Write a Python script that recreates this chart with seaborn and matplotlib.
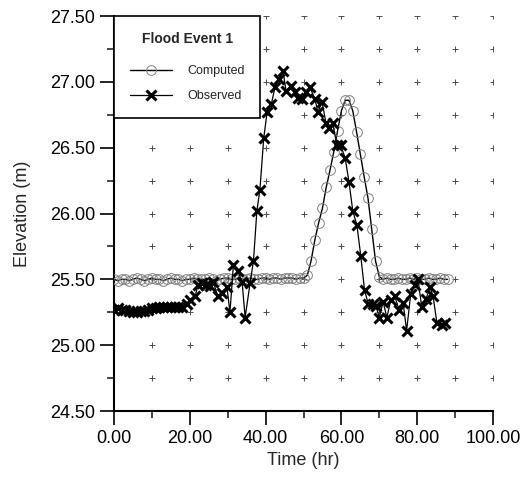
import numpy as np
import matplotlib
matplotlib.use('Agg')
import matplotlib.pyplot as plt
import seaborn as sns

# Computed water level (hourly)
computed_time = [0, 1, 2, 3, 4, 5, 6, 7, 8, 9, 10, 11, 12, 13, 14, 15, 16, 17, 18, 19,
                 20, 21, 22, 23, 24, 25, 26, 27, 28, 29, 30, 31, 32, 33, 34, 35, 36, 37, 38, 39,
                 40, 41, 42, 43, 44, 45, 46, 47, 48, 49, 50, 51, 52, 53, 54, 55, 56, 57, 58, 59,
                 60, 61, 62, 63, 64, 65, 66, 67, 68, 69, 70, 71, 72, 73, 74, 75, 76, 77, 78, 79,
                 80, 81, 82, 83, 84, 85, 86, 87, 88]
computed_elev = [25.50, 25.49, 25.50, 25.50, 25.49, 25.50, 25.51, 25.50, 25.49, 25.50,
                 25.51, 25.50, 25.50, 25.49, 25.50, 25.51, 25.50, 25.50, 25.49, 25.50,
                 25.50, 25.51, 25.50, 25.50, 25.50, 25.51, 25.50, 25.49, 25.50, 25.51,
                 25.51, 25.50, 25.50, 25.51, 25.50, 25.50, 25.51, 25.50, 25.50, 25.51,
                 25.51, 25.50, 25.51, 25.51, 25.50, 25.51, 25.51, 25.51, 25.50, 25.51,
                 25.51, 25.53, 25.64, 25.80, 25.93, 26.04, 26.20, 26.33, 26.47, 26.63,
                 26.78, 26.86, 26.86, 26.78, 26.62, 26.45, 26.28, 26.12, 25.88, 25.64,
                 25.52, 25.50, 25.51, 25.50, 25.50, 25.51, 25.50, 25.50, 25.51, 25.50,
                 25.51, 25.50, 25.50, 25.51, 25.50, 25.50, 25.51, 25.50, 25.50]

# Observed water level
observed_time = [0, 1, 2, 3, 4, 5, 6, 7, 8, 9, 10, 11, 12, 13, 14, 15, 16, 17, 18,
                 19.2, 20, 21.4, 22.2, 23.3, 24.4, 25.3, 26.2, 27.4, 28.5, 29.8, 30.6,
                 31.5, 32.7, 33.8, 34.6, 35.9, 36.8, 37.7, 38.5, 39.5, 40.4, 41.5, 42.5,
                 43.6, 44.6, 45.4, 46.6, 47.8, 48.6, 49.5, 50.6, 51.7, 53.0, 53.8, 54.9,
                 55.9, 56.8, 57.7, 58.8, 59.8, 61.0, 62.0, 63.0, 64.1, 65.1, 66.1, 67.1,
                 68.3, 69.1, 70.0, 71.0, 72.0, 73.0, 74.1, 75.2, 76.3, 77.2, 78.3, 79.4,
                 80.2, 81.2, 82.3, 83.4, 84.2, 85.2, 86.5, 87.3]
observed_elev = [25.27, 25.28, 25.27, 25.27, 25.26, 25.25, 25.25, 25.26, 25.26, 25.27,
                 25.28, 25.28, 25.29, 25.29, 25.29, 25.29, 25.29, 25.29, 25.29,
                 25.31, 25.34, 25.37, 25.46, 25.47, 25.46, 25.45, 25.48, 25.37, 25.40,
                 25.44, 25.25, 25.61, 25.56, 25.48, 25.21, 25.47, 25.64, 26.02, 26.18,
                 26.57, 26.77, 26.83, 26.96, 27.02, 27.08, 26.93, 26.97, 26.92, 26.88,
                 26.87, 26.92, 26.96, 26.87, 26.77, 26.85, 26.69, 26.65, 26.69, 26.52,
                 26.52, 26.42, 26.24, 26.02, 25.91, 25.68, 25.42, 25.31, 25.31, 25.30,
                 25.21, 25.33, 25.21, 25.34, 25.37, 25.27, 25.32, 25.11, 25.39, 25.46,
                 25.50, 25.29, 25.35, 25.44, 25.37, 25.17, 25.15, 25.17]

x_ticks = [0, 20, 40, 60, 80, 100]
y_ticks = [24.5, 25.0, 25.5, 26.0, 26.5, 27.0, 27.5]

sns.set_style('ticks')
plt.rcParams['font.family'] = ['Liberation Sans', 'DejaVu Sans']

fig = plt.figure(figsize=(5.30, 4.79), dpi=100)
ax = fig.add_axes([114 / 530, 68 / 479, 379 / 530, 395 / 479])

# "+" marks at every minor tick crossing
gx, gy = np.meshgrid(np.arange(10, 101, 10), np.arange(24.75, 27.51, 0.25))
ax.scatter(gx.ravel(), gy.ravel(), marker='+', s=14, color='0.3', linewidths=0.7, zorder=1)

sns.lineplot(x=computed_time, y=computed_elev, ax=ax, color='black', lw=1.0,
             marker='o', markersize=7, markerfacecolor='none', markeredgecolor='0.5',
             markeredgewidth=0.7, label='Computed', zorder=3)
sns.lineplot(x=observed_time, y=observed_elev, ax=ax, color='black', lw=0.9,
             marker='x', markersize=7, markeredgecolor='black', markeredgewidth=2.2,
             label='Observed', zorder=4)

ax.set_xlim(0, 100)
ax.set_ylim(24.5, 27.5)
ax.set_xticks(x_ticks)
ax.set_xticklabels([f'{v:.2f}' for v in x_ticks])
ax.set_yticks(y_ticks)
ax.set_yticklabels([f'{v:.2f}' for v in y_ticks])
ax.set_xticks(np.arange(10, 100, 20), minor=True)
ax.set_yticks(np.arange(24.75, 27.5, 0.5), minor=True)
ax.tick_params(which='major', direction='out', length=10, width=1.2, labelsize=13, colors='black')
ax.tick_params(which='minor', direction='out', length=5, width=1.2)

ax.set_xlabel('Time (hr)', fontsize=13, labelpad=4)
ax.set_ylabel('Elevation (m)', fontsize=13, labelpad=14)

sns.despine(ax=ax)
for side in ['left', 'bottom']:
    ax.spines[side].set_linewidth(1.5)
    ax.spines[side].set_color('black')

leg = ax.legend(title='Flood Event 1', loc='upper left', bbox_to_anchor=(0, 1),
                borderaxespad=0, fancybox=False, framealpha=1, edgecolor='black',
                fontsize=9, title_fontproperties={'weight': 'bold', 'size': 10},
                handlelength=3.4, borderpad=1.25, labelspacing=1.05, handletextpad=1.2)
leg.get_frame().set_linewidth(1.2)
leg._legend_box.sep = 14

fig.savefig('out.png', dpi=100)
